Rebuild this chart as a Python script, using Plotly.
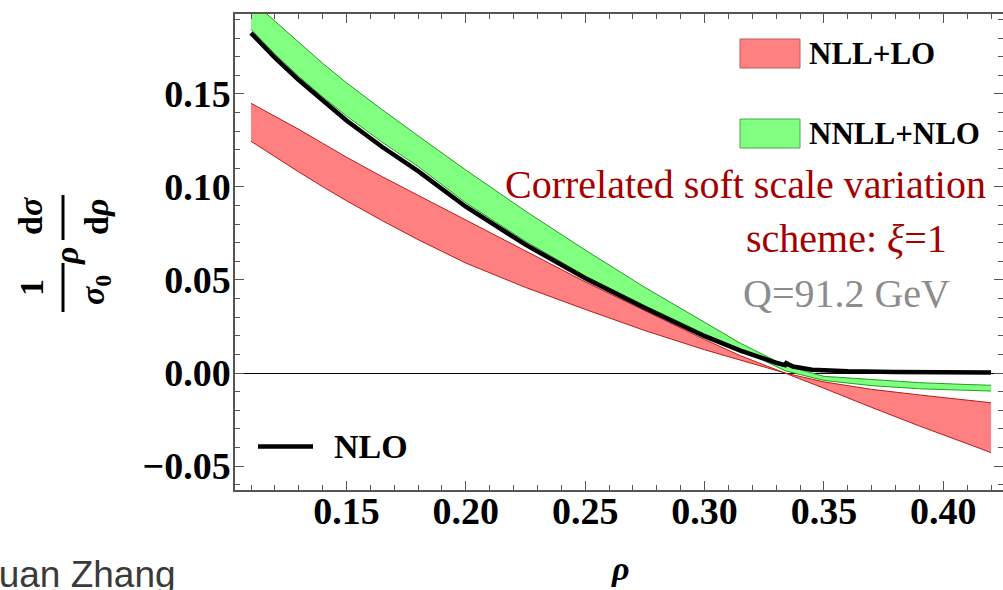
import plotly.graph_objects as go

# ---- data: rho grid and band edges ----
rho = [0.11, 0.12, 0.13, 0.14, 0.15, 0.165, 0.18, 0.20, 0.225, 0.25,
       0.275, 0.30, 0.315, 0.3337, 0.35, 0.37, 0.39, 0.41, 0.42]

# NLL+LO band (two scale choices, crossing near rho ~ 0.334)
nll_lo_a = [0.1450, 0.1380, 0.1310, 0.1235, 0.1160, 0.1055, 0.0955, 0.0823, 0.0655, 0.0490,
            0.0335, 0.0180, 0.0093, 0.0000, -0.0082, -0.0185, -0.0285, -0.0380, -0.0428]
nll_lo_b = [0.1246, 0.1162, 0.1081, 0.1002, 0.0926, 0.0819, 0.0717, 0.0591, 0.0460, 0.0342,
            0.0228, 0.0125, 0.0068, 0.0000, -0.0048, -0.0088, -0.0118, -0.0145, -0.0160]

# NNLL+NLO band
nnll_nlo_hi = [0.2005, 0.1890, 0.1780, 0.1665, 0.1560, 0.1415, 0.1275, 0.1091, 0.0870, 0.0661,
               0.0460, 0.0270, 0.0160, 0.0040, -0.0018, -0.0035, -0.0052, -0.0062, -0.0066]
nnll_nlo_lo = [0.1848, 0.1715, 0.1595, 0.1485, 0.1382, 0.1240, 0.1110, 0.0915, 0.0708, 0.0522,
               0.0362, 0.0210, 0.0128, 0.0012, -0.0040, -0.0068, -0.0085, -0.0094, -0.0097]

# fixed-order NLO curve
rho_nlo = [0.11, 0.12, 0.13, 0.14, 0.15, 0.165, 0.18, 0.20, 0.225, 0.25, 0.275, 0.30,
           0.315, 0.33, 0.3337, 0.3342, 0.337, 0.345, 0.36, 0.38, 0.40, 0.42]
nlo = [0.1828, 0.1695, 0.1575, 0.1463, 0.1357, 0.1215, 0.1085, 0.0894, 0.0690, 0.0509, 0.0350, 0.0198,
       0.0120, 0.0055, 0.0042, 0.0053, 0.0035, 0.0018, 0.0010, 0.0006, 0.0004, 0.0003]

x_ticks = [0.15, 0.20, 0.25, 0.30, 0.35, 0.40]
y_ticks = [-0.05, 0.00, 0.05, 0.10, 0.15]

# ---- page geometry ----
W, H = 1003, 590
ML, MR, MT, MB = 235, 0, 14, 100


def fx(p):
    return (p - ML) / (W - ML - MR)


def fy(p):
    return (H - MB - p) / (H - MT - MB)


RED_FILL, RED_EDGE = "#ff8080", "#b81c1c"
GRN_FILL, GRN_EDGE = "#80ff80", "#1fa01f"
SERIF = "Liberation Serif"
TICK_FONT = dict(family=SERIF, size=38, color="black", weight="bold")

fig = go.Figure()

fig.add_trace(go.Scatter(x=rho, y=nll_lo_a, mode="lines", name="NLL+LO a",
                         line=dict(color=RED_EDGE, width=1), hoverinfo="skip"))
fig.add_trace(go.Scatter(x=rho, y=nll_lo_b, mode="lines", fill="tonexty", fillcolor=RED_FILL,
                         line=dict(color=RED_EDGE, width=1), name="NLL+LO"))
fig.add_trace(go.Scatter(x=rho, y=nnll_nlo_hi, mode="lines", name="NNLL+NLO hi",
                         line=dict(color=GRN_EDGE, width=1), hoverinfo="skip"))
fig.add_trace(go.Scatter(x=rho, y=nnll_nlo_lo, mode="lines", fill="tonexty", fillcolor=GRN_FILL,
                         line=dict(color=GRN_EDGE, width=1), name="NNLL+NLO"))
fig.add_trace(go.Scatter(x=rho_nlo, y=nlo, mode="lines",
                         line=dict(color="black", width=4.5), name="NLO"))

minor_ticks = dict(dtick=0.01, tick0=0, ticks="inside", ticklen=5,
                   tickcolor="#555", tickwidth=1, showgrid=False)

fig.update_layout(
    xaxis=dict(range=[0.1033, 0.4250], tickmode="array", tickvals=x_ticks,
               ticktext=[f"{v:.2f}" for v in x_ticks],
               ticks="inside", ticklen=9, tickwidth=1.2, tickcolor="#555",
               showline=True, linecolor="#555", linewidth=1.5, mirror="allticks",
               showgrid=False, zeroline=False, tickfont=TICK_FONT,
               ticklabelstandoff=-13,
               minor=minor_ticks, automargin=False),
    yaxis=dict(range=[-0.0629, 0.1930], tickmode="array", tickvals=y_ticks,
               ticktext=[f"{v:.2f}".replace("-", "\u2212") for v in y_ticks],
               ticks="inside", ticklen=9, tickwidth=1.2, tickcolor="#555",
               showline=True, linecolor="#555", linewidth=1.5, mirror="allticks",
               showgrid=False, zeroline=True, zerolinecolor="black", zerolinewidth=1,
               tickfont=TICK_FONT, ticklabelstandoff=-5,
               minor=minor_ticks, automargin=False),
)

shapes = []
annotations = []


def text(s, x, y, size, color="black", bold=False, xanchor="center", angle=0, family=SERIF, weight=None):
    annotations.append(dict(
        text=s, x=fx(x), y=fy(y), xref="paper", yref="paper",
        xanchor=xanchor, yanchor="middle", showarrow=False, textangle=angle,
        font=dict(family=family, size=size, color=color,
                  weight=weight if weight is not None else ("bold" if bold else "normal")),
    ))


# legend swatches
shapes.append(dict(type="rect", xref="paper", yref="paper",
                   x0=fx(740), x1=fx(800), y0=fy(68), y1=fy(39),
                   fillcolor=RED_FILL, line=dict(color="#c05a5a", width=1)))
shapes.append(dict(type="rect", xref="paper", yref="paper",
                   x0=fx(740), x1=fx(800), y0=fy(148), y1=fy(119),
                   fillcolor=GRN_FILL, line=dict(color="#4aaa4a", width=1)))
text("NLL+LO", 807, 53, 31, bold=True, xanchor="left")
text("NNLL+NLO", 807, 133, 31, bold=True, xanchor="left")

# NLO legend entry
shapes.append(dict(type="line", xref="paper", yref="paper",
                   x0=fx(258), x1=fx(313), y0=fy(446.5), y1=fy(446.5),
                   line=dict(color="black", width=4.5)))
text("NLO", 332, 446, 34, bold=True, xanchor="left")

# scheme description
text("Correlated soft scale variation", 745, 185, 40, color="#a50000")
text("scheme: <i>ξ</i>=1", 846, 238, 40, color="#a50000")
text("Q=91.2 GeV", 846, 293, 40, color="#8c8c8c")

# axis titles
text("<b><i>ρ</i></b>", 620, 568, 34)
text("<b>1</b>", 31, 288, 34, angle=-90)
text("<b><i>σ</i><sub>0</sub></b>", 95, 290, 34, angle=-90)
text("<b><i>ρ</i></b>", 66, 256, 34, angle=-90)
text("<b>d<i>σ</i></b>", 30, 216, 34, angle=-90)
text("<b>d<i>ρ</i></b>", 96, 217, 34, angle=-90)
for y0, y1 in [(263, 312), (195, 240)]:
    shapes.append(dict(type="line", xref="paper", yref="paper",
                       x0=fx(63), x1=fx(63), y0=fy(y1), y1=fy(y0),
                       line=dict(color="black", width=3)))

# footer
text("Yuan Zhang", 178, 574, 37, color="#3a3a3a", xanchor="right",
     family="Liberation Sans")

fig.update_layout(
    width=W, height=H,
    margin=dict(l=ML, r=MR, t=MT, b=MB),
    plot_bgcolor="white", paper_bgcolor="white",
    showlegend=False,
    shapes=shapes, annotations=annotations,
)

fig.write_html("out.html")
